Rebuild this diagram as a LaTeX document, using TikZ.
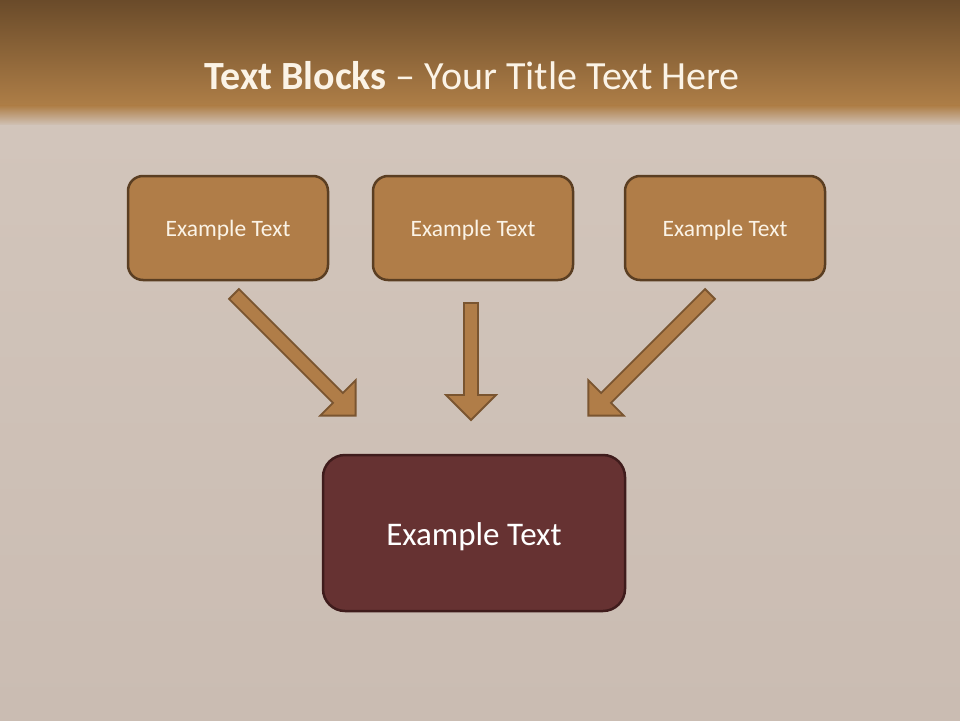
\documentclass[tikz,border=0pt]{standalone}
\usepackage{fontspec}
\setmainfont{Carlito}
\definecolor{bandtop}{HTML}{6A4B2A}
\definecolor{bandbot}{HTML}{AE7E47}
\definecolor{woodtop}{HTML}{D2C5BB}
\definecolor{woodbot}{HTML}{CABCB2}
\definecolor{boxfill}{HTML}{B07D48}
\definecolor{boxline}{HTML}{5A3E22}
\definecolor{mainfill}{HTML}{663232}
\definecolor{mainline}{HTML}{3F1C1C}
\definecolor{arrline}{HTML}{7A5530}
\definecolor{txtcream}{HTML}{FBF3E6}
\tikzset{
  smallbox/.style={draw=boxline, fill=boxfill, line width=2.5pt, rounded corners=15pt,
    minimum width=200pt, minimum height=104pt},
  smalltext/.style={text=txtcream, font=\fontsize{23.5}{28}\selectfont, anchor=base},
  bigbox/.style={draw=mainline, fill=mainfill, line width=2.5pt, rounded corners=22pt,
    minimum width=302pt, minimum height=156pt},
  bigtext/.style={text=white, font=\fontsize{33}{40}\selectfont, anchor=base},
  blockarrow/.style={fill=boxfill, draw=arrline, line width=1.8pt, line join=miter},
  titletext/.style={text=txtcream, font=\fontsize{40}{48}\selectfont, anchor=base}
}
\newcommand\blockarr[3]{%
  \begin{scope}[shift={(#1)}, rotate=#2]
    \draw[blockarrow] (0,7)--(#3-25,7)--(#3-25,25)--(#3,0)--(#3-25,-25)--(#3-25,-7)--(0,-7)--cycle;
  \end{scope}}
\begin{document}
\begin{tikzpicture}[x=1pt,y=-1pt]
\useasboundingbox (0,0) rectangle (960,720);
% background
\fill[top color=bandtop, bottom color=bandbot] (0,0) rectangle (960,106);
\fill[top color=bandbot, bottom color=woodtop] (0,105.5) rectangle (960,126);
\fill[top color=woodtop, bottom color=woodbot] (0,125.5) rectangle (960,720);
% title
\node[titletext] (title) at (472,89) {\textbf{Text Blocks} – Your Title Text Here};
% boxes
\node[smallbox] (b1) at (228,228) {};
\node[smallbox] (b2) at (473,228) {};
\node[smallbox] (b3) at (725,228) {};
\node[smalltext] (t1) at (228,236) {Example Text};
\node[smalltext] (t2) at (473,236) {Example Text};
\node[smalltext] (t3) at (725,236) {Example Text};
\node[bigbox] (main) at (474,533) {};
\node[bigtext] (tm) at (474,545) {Example Text};
% arrows
\coordinate (s1) at (234,294);
\coordinate (s2) at (471,303);
\coordinate (s3) at (710,294);
\blockarr{s1}{-45}{172}
\blockarr{s2}{-90}{117}
\blockarr{s3}{-135}{172}
\end{tikzpicture}
\end{document}
